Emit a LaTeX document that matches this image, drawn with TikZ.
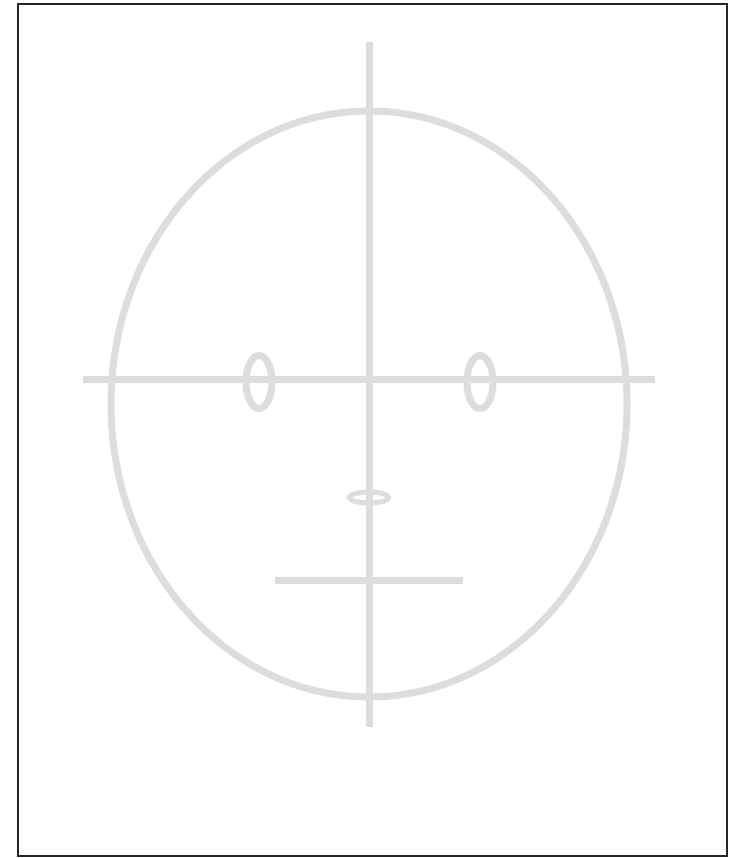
\documentclass[tikz,border=0pt]{standalone}
\usetikzlibrary{shapes.geometric}
\definecolor{guidegray}{HTML}{DDDDDF}
\definecolor{framegray}{HTML}{262626}
\begin{document}
\begin{tikzpicture}[x=1pt,y=-1pt,guide/.style={draw=guidegray,line width=7pt},oval/.style={guide,ellipse,inner sep=0pt,outer sep=0pt}]
\useasboundingbox (0,0) rectangle (738,858);
\node[draw=framegray,line width=2pt,minimum width=709pt,minimum height=852pt,inner sep=0pt] (frame) at (372.5,430){};
\node[oval,minimum width=516pt,minimum height=586pt] (head) at (369,404){};
\coordinate (crowntop) at (369,42);\coordinate (chinbottom) at (369,727);
\coordinate (browleft) at (83,379);\coordinate (browright) at (655,379);
\coordinate (mouthleft) at (275,580);\coordinate (mouthright) at (463,580);
\draw[guide] (crowntop) -- (chinbottom);\draw[guide] (browleft) -- (browright);\draw[guide] (mouthleft) -- (mouthright);
\node[oval,minimum width=26pt,minimum height=53pt] (lefteye) at (259,382){};
\node[oval,minimum width=26pt,minimum height=53pt] (righteye) at (480,382){};
\node[oval,line width=5pt,minimum width=39pt,minimum height=11pt] (nose) at (369,497.5){};
\end{tikzpicture}
\end{document}
